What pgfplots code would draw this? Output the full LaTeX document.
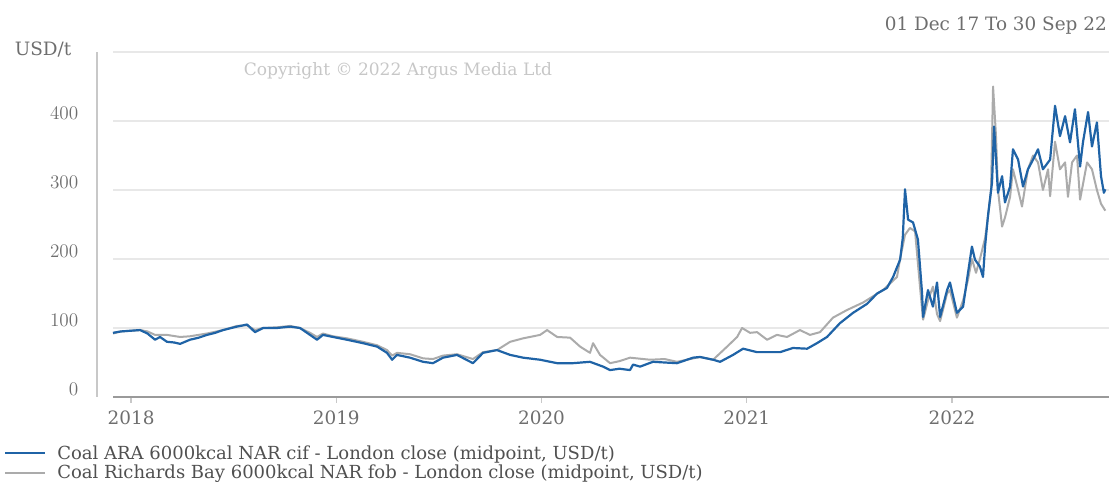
\documentclass[border=0pt]{standalone}
\usepackage{pgfplots}
\pgfplotsset{compat=1.18}
\usepackage{fontspec}
\setmainfont{DejaVu Serif}
\newlength\px \setlength\px{0.75pt}
\definecolor{arablue}{HTML}{1F63A6}
\definecolor{rbgray}{HTML}{ABABAB}
\definecolor{txtgray}{HTML}{6E6E6E}
\definecolor{leggray}{HTML}{505050}
\definecolor{gridc}{HTML}{E8E8E8}
\definecolor{yaxc}{HTML}{C8C8C8}
\definecolor{xaxc}{HTML}{9A9A9A}
\newcommand\chfont{\fontsize{13.8}{16}\selectfont}
\newcommand\legfont{\fontsize{13.5}{15}\selectfont}
\begin{document}
\begin{tikzpicture}
\path[use as bounding box] (-97\px,-87\px) rectangle (1012\px,397\px);
\begin{axis}[
  at={(0,0)}, anchor=south west,
  scale only axis, width=1012\px, height=345\px,
  xmin=2017.834, xmax=2022.765, ymin=0, ymax=500,
  clip=false,
  axis line style={draw=none},
  xtick={2018,2019,2020,2021,2022},
  xticklabels={2018,2019,2020,2021,2022},
  ytick={0,100,200,300,400},
  tick align=outside, xtick pos=bottom, ytick pos=left,
  major tick length=6\px,
  xtick style={draw=yaxc, line width=1.2\px},
  ytick style={draw=none},
  ticklabel style={font=\chfont, text=txtgray},
  yticklabel style={anchor=east, xshift=-8\px, yshift=8\px},
  xticklabel style={yshift=-3\px},
  legend style={draw=none, fill=none, at={(axis description cs:-0.092,-0.137)}, anchor=north west,
    font=\legfont, text=leggray, row sep=1.5\px, inner sep=0pt,
    nodes={inner sep=1\px},
    /tikz/every odd column/.append style={column sep=10\px}},
  legend cell align=left,
  legend image code/.code={\draw[#1] (0\px,0\px) -- (40\px,0\px);},
  reverse legend,
]
\draw[gridc, line width=1.5\px] (axis cs:2017.912,100) -- (axis cs:2022.765,100);
\draw[gridc, line width=1.5\px] (axis cs:2017.912,200) -- (axis cs:2022.765,200);
\draw[gridc, line width=1.5\px] (axis cs:2017.912,300) -- (axis cs:2022.765,300);
\draw[gridc, line width=1.5\px] (axis cs:2017.912,400) -- (axis cs:2022.765,400);
\draw[gridc, line width=1.5\px] (axis cs:2017.912,500) -- (axis cs:2022.765,500);
\draw[yaxc, line width=2\px] (axis cs:2017.834,0) -- (axis cs:2017.834,500);
\draw[xaxc, line width=1.5\px] (axis cs:2017.912,0) -- (axis cs:2022.765,0);

\addplot[rbgray, line width=2\px, line join=round] table {
2017.912 92
2017.950 95
2018.044 97
2018.080 95
2018.117 90
2018.175 90
2018.239 87
2018.287 88
2018.370 92
2018.448 97
2018.516 103
2018.565 104
2018.604 97
2018.643 100
2018.711 101
2018.775 103
2018.823 100
2018.872 93
2018.906 87
2018.935 92
2018.984 88
2019.052 85
2019.130 80
2019.199 75
2019.247 68
2019.272 60
2019.296 64
2019.359 62
2019.423 56
2019.471 55
2019.520 60
2019.588 62
2019.666 55
2019.715 65
2019.783 68
2019.847 80
2019.910 85
2019.993 90
2020.027 97
2020.076 87
2020.139 86
2020.188 73
2020.236 64
2020.251 78
2020.285 61
2020.334 49
2020.380 52
2020.431 57
2020.529 54
2020.600 55
2020.660 51
2020.772 58
2020.836 54
2020.904 73
2020.953 87
2020.977 100
2021.016 93
2021.050 94
2021.099 83
2021.147 90
2021.196 87
2021.259 97
2021.308 90
2021.357 94
2021.420 115
2021.488 126
2021.567 137
2021.664 155
2021.732 174
2021.747 200
2021.771 235
2021.795 245
2021.820 240
2021.844 160
2021.859 112
2021.883 140
2021.907 160
2021.927 120
2021.942 110
2021.976 150
2021.990 155
2022.024 115
2022.054 140
2022.078 170
2022.097 200
2022.117 180
2022.136 200
2022.161 230
2022.175 260
2022.190 300
2022.200 450
2022.214 380
2022.224 300
2022.244 247
2022.258 260
2022.283 290
2022.297 330
2022.322 300
2022.341 276
2022.370 330
2022.395 350
2022.419 340
2022.443 300
2022.468 330
2022.478 291
2022.502 370
2022.526 330
2022.551 340
2022.565 290
2022.585 340
2022.609 350
2022.624 286
2022.658 340
2022.682 330
2022.706 300
2022.726 280
2022.747 270
};
\addlegendentry{Coal Richards Bay 6000kcal NAR fob - London close (midpoint, USD/t)}

\addplot[arablue, line width=2.2\px, line join=round] table {
2017.912 93
2017.950 95
2018.044 97
2018.080 92
2018.117 83
2018.141 87
2018.175 80
2018.210 79
2018.239 77
2018.287 83
2018.330 86
2018.370 90
2018.410 93
2018.448 97
2018.516 102
2018.565 105
2018.604 94
2018.643 100
2018.711 100
2018.775 102
2018.823 100
2018.872 90
2018.906 83
2018.935 90
2018.984 87
2019.052 83
2019.130 78
2019.199 73
2019.247 64
2019.272 54
2019.296 61
2019.359 57
2019.423 51
2019.471 49
2019.520 57
2019.588 61
2019.666 49
2019.715 64
2019.783 68
2019.847 61
2019.910 57
2019.993 54
2020.076 49
2020.153 49
2020.236 51
2020.300 44
2020.334 39
2020.380 41
2020.431 39
2020.446 47
2020.480 44
2020.543 51
2020.600 50
2020.660 49
2020.738 57
2020.772 58
2020.836 54
2020.870 51
2020.933 61
2020.982 70
2021.050 65
2021.099 65
2021.162 65
2021.225 71
2021.294 70
2021.342 78
2021.391 87
2021.454 107
2021.518 122
2021.586 135
2021.635 150
2021.683 158
2021.713 174
2021.747 199
2021.760 230
2021.771 301
2021.786 257
2021.810 253
2021.834 228
2021.854 151
2021.859 116
2021.883 155
2021.907 131
2021.927 166
2021.942 116
2021.976 155
2021.990 166
2022.024 122
2022.054 131
2022.078 180
2022.097 218
2022.112 199
2022.136 189
2022.151 174
2022.161 218
2022.175 262
2022.195 311
2022.205 392
2022.224 296
2022.244 320
2022.258 282
2022.283 305
2022.297 359
2022.322 344
2022.346 305
2022.370 330
2022.395 344
2022.419 359
2022.443 330
2022.478 344
2022.502 422
2022.526 378
2022.551 407
2022.575 369
2022.599 417
2022.624 334
2022.638 369
2022.663 413
2022.682 363
2022.706 398
2022.726 320
2022.740 296
2022.747 301
};
\addlegendentry{Coal ARA 6000kcal NAR cif - London close (midpoint, USD/t)}
\end{axis}
\node[font=\chfont, text=txtgray] at (-54\px,347\px) {USD/t};
\node[font=\fontsize{12.8}{15}\selectfont, text=black!22] at (301\px,326\px) {Copyright © 2022 Argus Media Ltd};
\node[font=\chfont, text=txtgray, anchor=east, inner sep=0pt] at (1010\px,371\px) {01 Dec 17 To 30 Sep 22};
\end{tikzpicture}
\end{document}
